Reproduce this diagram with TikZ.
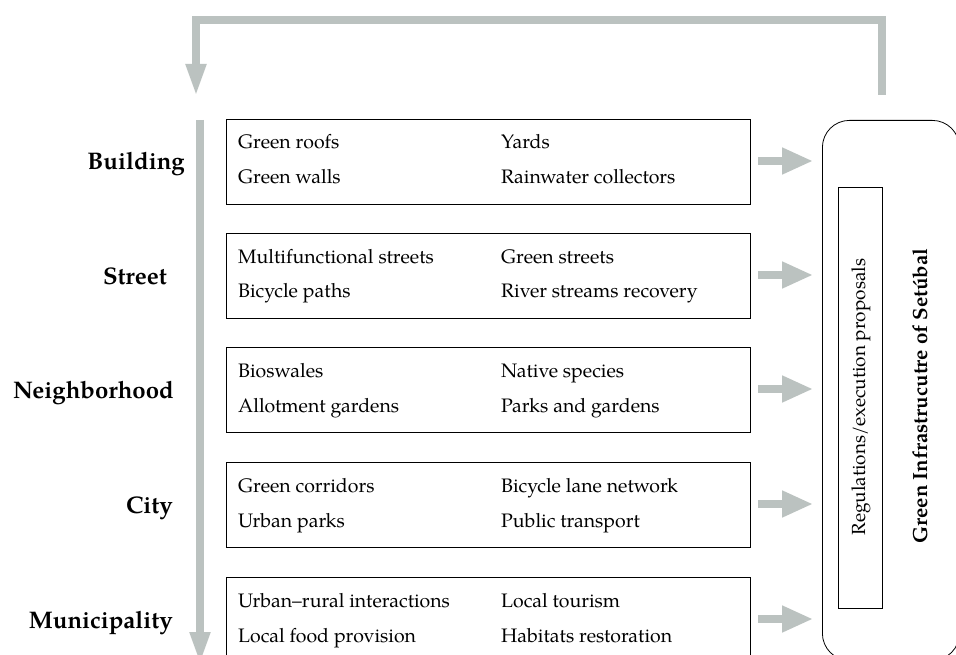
\documentclass[tikz,border=0pt]{standalone}
\usepackage{fontspec}
\setmainfont{TeX Gyre Pagella}
\usetikzlibrary{arrows.meta}
\definecolor{arrgray}{RGB}{187,194,192}
\tikzset{
  flow/.style={draw=arrgray, line width=7.5pt},
  bigtip/.style={-{Triangle[width=19pt,length=32pt]}},
  smalltip/.style={-{Triangle[width=25pt,length=31pt]}},
  levelbox/.style={draw=black, line width=0.8pt, minimum width=524pt, minimum height=85pt, anchor=north west, inner sep=0pt},
  itemtxt/.style={anchor=base west, font=\fontsize{19.5}{23}\selectfont, inner sep=0pt},
  leveltxt/.style={anchor=base east, font=\fontsize{24}{28}\selectfont\bfseries, inner sep=0pt},
}
\begin{document}
\begin{tikzpicture}[x=1pt,y=-1pt]
\clip (0,0) rectangle (956,655);
\fill[white] (0,0) rectangle (956,655);
% feedback loop
\coordinate (fbstart) at (882,95);
\coordinate (fbend) at (196,96);
\draw[flow, bigtip] (fbstart) |- (539,20) -| (fbend);
% main down arrow
\coordinate (mtop) at (200,120);
\coordinate (mbot) at (200,664);
\draw[flow, bigtip] (mtop) -- (mbot);
% boxes
\foreach \i/\y/\lab/\lx/\a/\b/\c/\d in {
 1/119/Building/185/Green roofs/Yards/Green walls/Rainwater collectors,
 2/233/Street/167/Multifunctional streets/Green streets/Bicycle paths/River streams recovery,
 3/347/Neighborhood/174/Bioswales/Native species/Allotment gardens/Parks and gardens,
 4/462/City/173/Green corridors/Bicycle lane network/Urban parks/Public transport,
 5/577/Municipality/173/Urban--rural interactions/Local tourism/Local food provision/Habitats restoration}{
  \node[levelbox] (box\i) at (226,\y) {};
  \node[itemtxt] (t\i a) at (238,\y+30) {\a};
  \node[itemtxt] (t\i b) at (501,\y+30) {\b};
  \node[itemtxt] (t\i c) at (238,\y+65) {\c};
  \node[itemtxt] (t\i d) at (501,\y+65) {\d};
  \node[leveltxt] (lev\i) at (\lx,\y+51) {\lab};
  \coordinate (as\i) at (758,\y+42);
  \coordinate (ae\i) at (813,\y+42);
  \draw[flow, smalltip] (as\i) -- (ae\i);
}
% right rounded box
\node[draw=black, line width=0.8pt, rounded corners=27pt, anchor=north west, minimum width=137pt, minimum height=540pt, inner sep=0pt] (gi) at (822,120) {};
\node[draw=black, line width=0.8pt, anchor=north west, minimum width=44pt, minimum height=421pt, inner sep=0pt] (reg) at (838,187) {};
\node[rotate=90, font=\fontsize{19}{22}\selectfont, inner sep=0pt] (regtxt) at (861,397) {Regulations/execution proposals};
\node[rotate=90, font=\fontsize{20.5}{24}\selectfont\bfseries, inner sep=0pt] (gitxt) at (920,396) {Green Infrastrucutre of Setúbal};
\end{tikzpicture}
\end{document}
